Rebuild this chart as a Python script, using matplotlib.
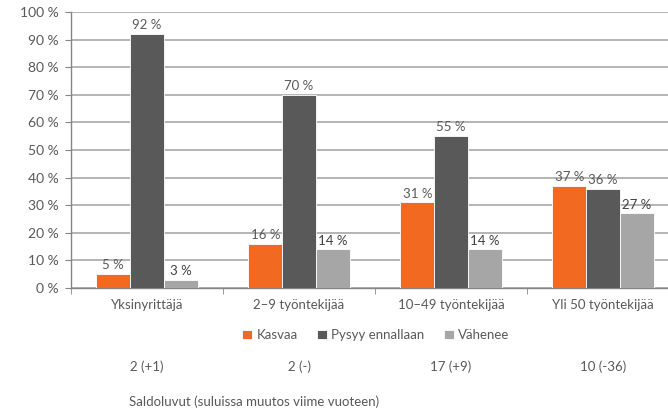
import matplotlib.pyplot as plt
import numpy as np

categories = ['Yksinyrittäjä', '2–9 työntekijää', '10–49 työntekijää', 'Yli 50 työntekijää']
kasvaa = [5, 16, 31, 37]
pysyy = [92, 70, 55, 36]
vahenee = [3, 14, 14, 27]
saldo = ['2 (+1)', '2 (-)', '17 (+9)', '10 (-36)']
series_names = ['Kasvaa', 'Pysyy ennallaan', 'Vähenee']
note = 'Saldoluvut (suluissa muutos viime vuoteen)'

colors = ['#F26A21', '#595959', '#A6A6A6']
label_colors = ['#595959', '#595959', '#404040']
text_col = '#595959'

plt.rcParams['font.family'] = ['Lato', 'DejaVu Sans']
fs = 9.5

fig = plt.figure(figsize=(6.68, 4.15), dpi=100)
ax = fig.add_axes([71 / 668, 127 / 415, 608 / 668, 276 / 415])

x = np.arange(len(categories))
w = 0.222
for i, (vals, name) in enumerate(zip([kasvaa, pysyy, vahenee], series_names)):
    bars = ax.bar(x + (i - 1) * w, vals, w, color=colors[i], edgecolor='white',
                  linewidth=0.6, label=name, zorder=3)
    for b, v in zip(bars, vals):
        ax.annotate(f'{v} %', (b.get_x() + b.get_width() / 2, v), xytext=(0, 2),
                    textcoords='offset points', ha='center', va='bottom',
                    color=label_colors[i], fontsize=fs)

ax.set_xlim(-0.5, len(categories) - 0.5)
ax.set_ylim(0, 100)
ax.set_yticks(range(0, 101, 10))
ax.set_yticklabels([f'{v} %' for v in range(0, 101, 10)])
ax.yaxis.grid(True, color='#A8A8A8', linewidth=1.2, zorder=0)
ax.set_axisbelow(True)

ax.set_xticks(x)
ax.set_xticklabels(categories)
ax.set_xticks(np.arange(-0.5, len(categories)), minor=True)
ax.tick_params(axis='x', which='major', length=0, pad=8, colors=text_col, labelsize=fs)
ax.tick_params(axis='x', which='minor', length=4, color='#868686')
ax.tick_params(axis='y', length=4, pad=5, colors=text_col, labelsize=10)
ax.tick_params(axis='y', color='#868686')

for s in ['top', 'right']:
    ax.spines[s].set_visible(False)
for s in ['left', 'bottom']:
    ax.spines[s].set_color('#868686')
    ax.spines[s].set_linewidth(1.0)

for xi, s in zip(x, saldo):
    ax.text(xi, -0.285, s, transform=ax.get_xaxis_transform(), ha='center', va='center',
            color=text_col, fontsize=fs)

fig.text(129 / 668, 1 - 402 / 415, note, ha='left', va='center', color=text_col, fontsize=fs)

leg = fig.legend(loc='center', bbox_to_anchor=(376 / 668, 1 - 335 / 415), ncol=3,
                 frameon=False, handlelength=0.75, handleheight=0.75, handletextpad=0.3,
                 columnspacing=1.5, fontsize=fs)
for t in leg.get_texts():
    t.set_color(text_col)

fig.savefig('out.png', dpi=100)
